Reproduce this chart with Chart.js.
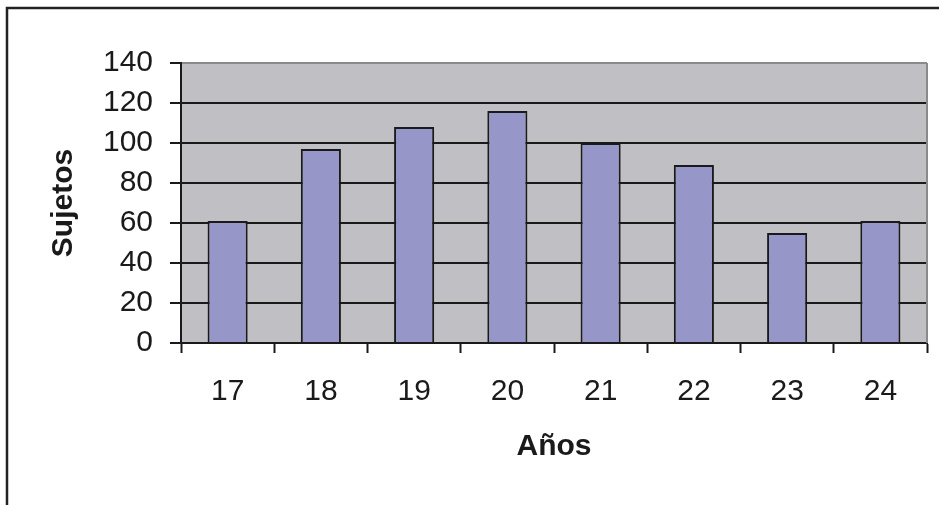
<!DOCTYPE html>
<html>
<head>
<meta charset="utf-8">
<script src="https://cdn.jsdelivr.net/npm/chart.js@4.4.1/dist/chart.umd.min.js"></script>
<style>
html,body{margin:0;padding:0;background:#fff;}
#wrap{width:939px;height:505px;}
</style>
</head>
<body>
<div id="wrap"><canvas id="c" width="939" height="505"></canvas></div>
<script>
const categories = ['17','18','19','20','21','22','23','24'];
const sujetos = [61, 97, 108, 116, 100, 89, 55, 61];
const yMin = 0, yMax = 140, yStep = 20;
const xTitle = 'Años';
const yTitle = 'Sujetos';

const FONT = '"Liberation Sans", Arial, Helvetica, sans-serif';

const frame = {
  id: 'frame',
  beforeDraw(chart) {
    const {ctx, chartArea: a} = chart;
    ctx.save();
    ctx.fillStyle = '#c0c0c4';
    ctx.fillRect(a.left, a.top, a.right - a.left, a.bottom - a.top);
    ctx.restore();
  },
  afterDatasetsDraw(chart) {
    const {ctx, chartArea: a} = chart;
    ctx.save();
    ctx.strokeStyle = '#8a8a8a';
    ctx.lineWidth = 2;
    ctx.beginPath();
    ctx.moveTo(a.right, a.top);
    ctx.lineTo(a.right, a.bottom);
    ctx.stroke();
    ctx.restore();
  },
  afterDraw(chart) {
    const {ctx} = chart;
    ctx.save();
    ctx.strokeStyle = '#222';
    ctx.lineWidth = 2.5;
    ctx.beginPath();
    ctx.moveTo(7, 505);
    ctx.lineTo(7, 8);
    ctx.lineTo(939, 8);
    ctx.stroke();
    ctx.restore();
  }
};

new Chart(document.getElementById('c'), {
  type: 'bar',
  data: {
    labels: categories,
    datasets: [{
      data: sujetos,
      backgroundColor: '#9696c8',
      borderColor: '#1a1a1a',
      borderWidth: 2,
      barPercentage: 0.43,
      categoryPercentage: 1.0
    }]
  },
  plugins: [frame],
  options: {
    responsive: false,
    animation: false,
    events: [],
    layout: { padding: { left: 0, right: 12, top: 63, bottom: 0 } },
    plugins: { legend: { display: false }, tooltip: { enabled: false } },
    scales: {
      x: {
        afterFit(s) { s.height = 162; },
        grid: {
          offset: true,
          drawOnChartArea: false,
          drawTicks: true,
          tickLength: 10,
          tickWidth: 2,
          tickColor: '#1a1a1a'
        },
        border: { color: '#1a1a1a', width: 2 },
        ticks: {
          color: '#1a1a1a',
          padding: 21,
          font: { family: FONT, size: 30 }
        },
        title: {
          display: true,
          text: xTitle,
          color: '#1a1a1a',
          font: { family: FONT, size: 30, weight: 'bold' },
          padding: { top: 0, bottom: 40 }
        }
      },
      y: {
        min: yMin,
        max: yMax,
        afterFit(s) { s.width = 181; },
        grid: {
          color: (c) => (c.tick && c.tick.value === yMax) ? '#8a8a8a' : '#1a1a1a',
          lineWidth: 2,
          drawTicks: true,
          tickLength: 11,
          tickWidth: 2,
          tickColor: '#1a1a1a'
        },
        border: { color: '#1a1a1a', width: 2 },
        ticks: {
          stepSize: yStep,
          color: '#1a1a1a',
          padding: 17,
          font: { family: FONT, size: 30 }
        },
        title: {
          display: true,
          text: yTitle,
          color: '#1a1a1a',
          font: { family: FONT, size: 30, weight: 'bold' },
          padding: { top: 46, bottom: 0 }
        }
      }
    }
  }
});
</script>
</body>
</html>
